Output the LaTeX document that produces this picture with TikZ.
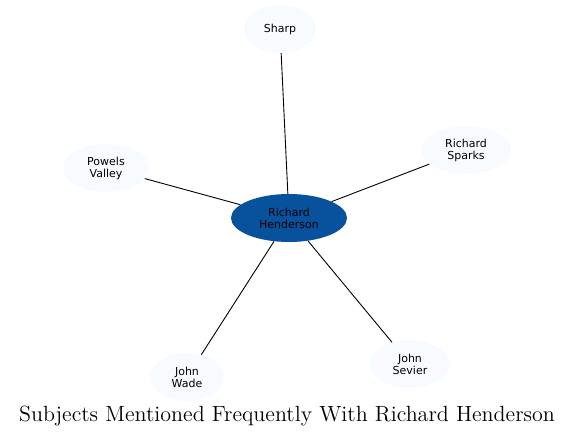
\documentclass[tikz,border=0pt]{standalone}
\usepackage{fontspec}
\newfontfamily\labelfont{DejaVu Sans}
\newfontfamily\captionfont{lmroman12-regular.otf}
\usepackage{tikz}
\usetikzlibrary{shapes.geometric}
\definecolor{hubblue}{HTML}{08519C}
\definecolor{leafblue}{HTML}{F7FBFF}

\begin{document}
\begin{tikzpicture}[
    x=1pt, y=-1pt,
    hub/.style={ellipse, fill=hubblue, inner sep=0pt, minimum width=116pt, minimum height=48pt, align=center, font=\labelfont\fontsize{11}{12}\selectfont},
    leaf/.style={ellipse, fill=leafblue, inner sep=0pt, minimum height=48pt, align=center, font=\labelfont\fontsize{11}{12}\selectfont},
    link/.style={draw=black, line width=0.9pt}
  ]
    \useasboundingbox (0,0) rectangle (575,439);

    \node[hub] (henderson) at (289,218) {Richard\\Henderson};
    \node[leaf, minimum width=72pt] (sharp) at (280,29) {Sharp};
    \node[leaf, minimum width=86pt] (powels) at (106,168) {Powels\\Valley};
    \node[leaf, minimum width=90pt] (sparks) at (466,150) {Richard\\Sparks};
    \node[leaf, minimum width=74pt] (wade) at (187,377) {John\\Wade};
    \node[leaf, minimum width=80pt] (sevier) at (410,364) {John\\Sevier};

    \draw[link] (henderson) -- (sharp);
    \draw[link] (henderson) -- (powels);
    \draw[link] (henderson) -- (sparks);
    \draw[link] (henderson) -- (wade);
    \draw[link] (henderson) -- (sevier);

    \node[font=\captionfont\fontsize{22}{26}\selectfont] (caption) at (287,416) {Subjects Mentioned Frequently With Richard Henderson};
  \end{tikzpicture}
\end{document}
